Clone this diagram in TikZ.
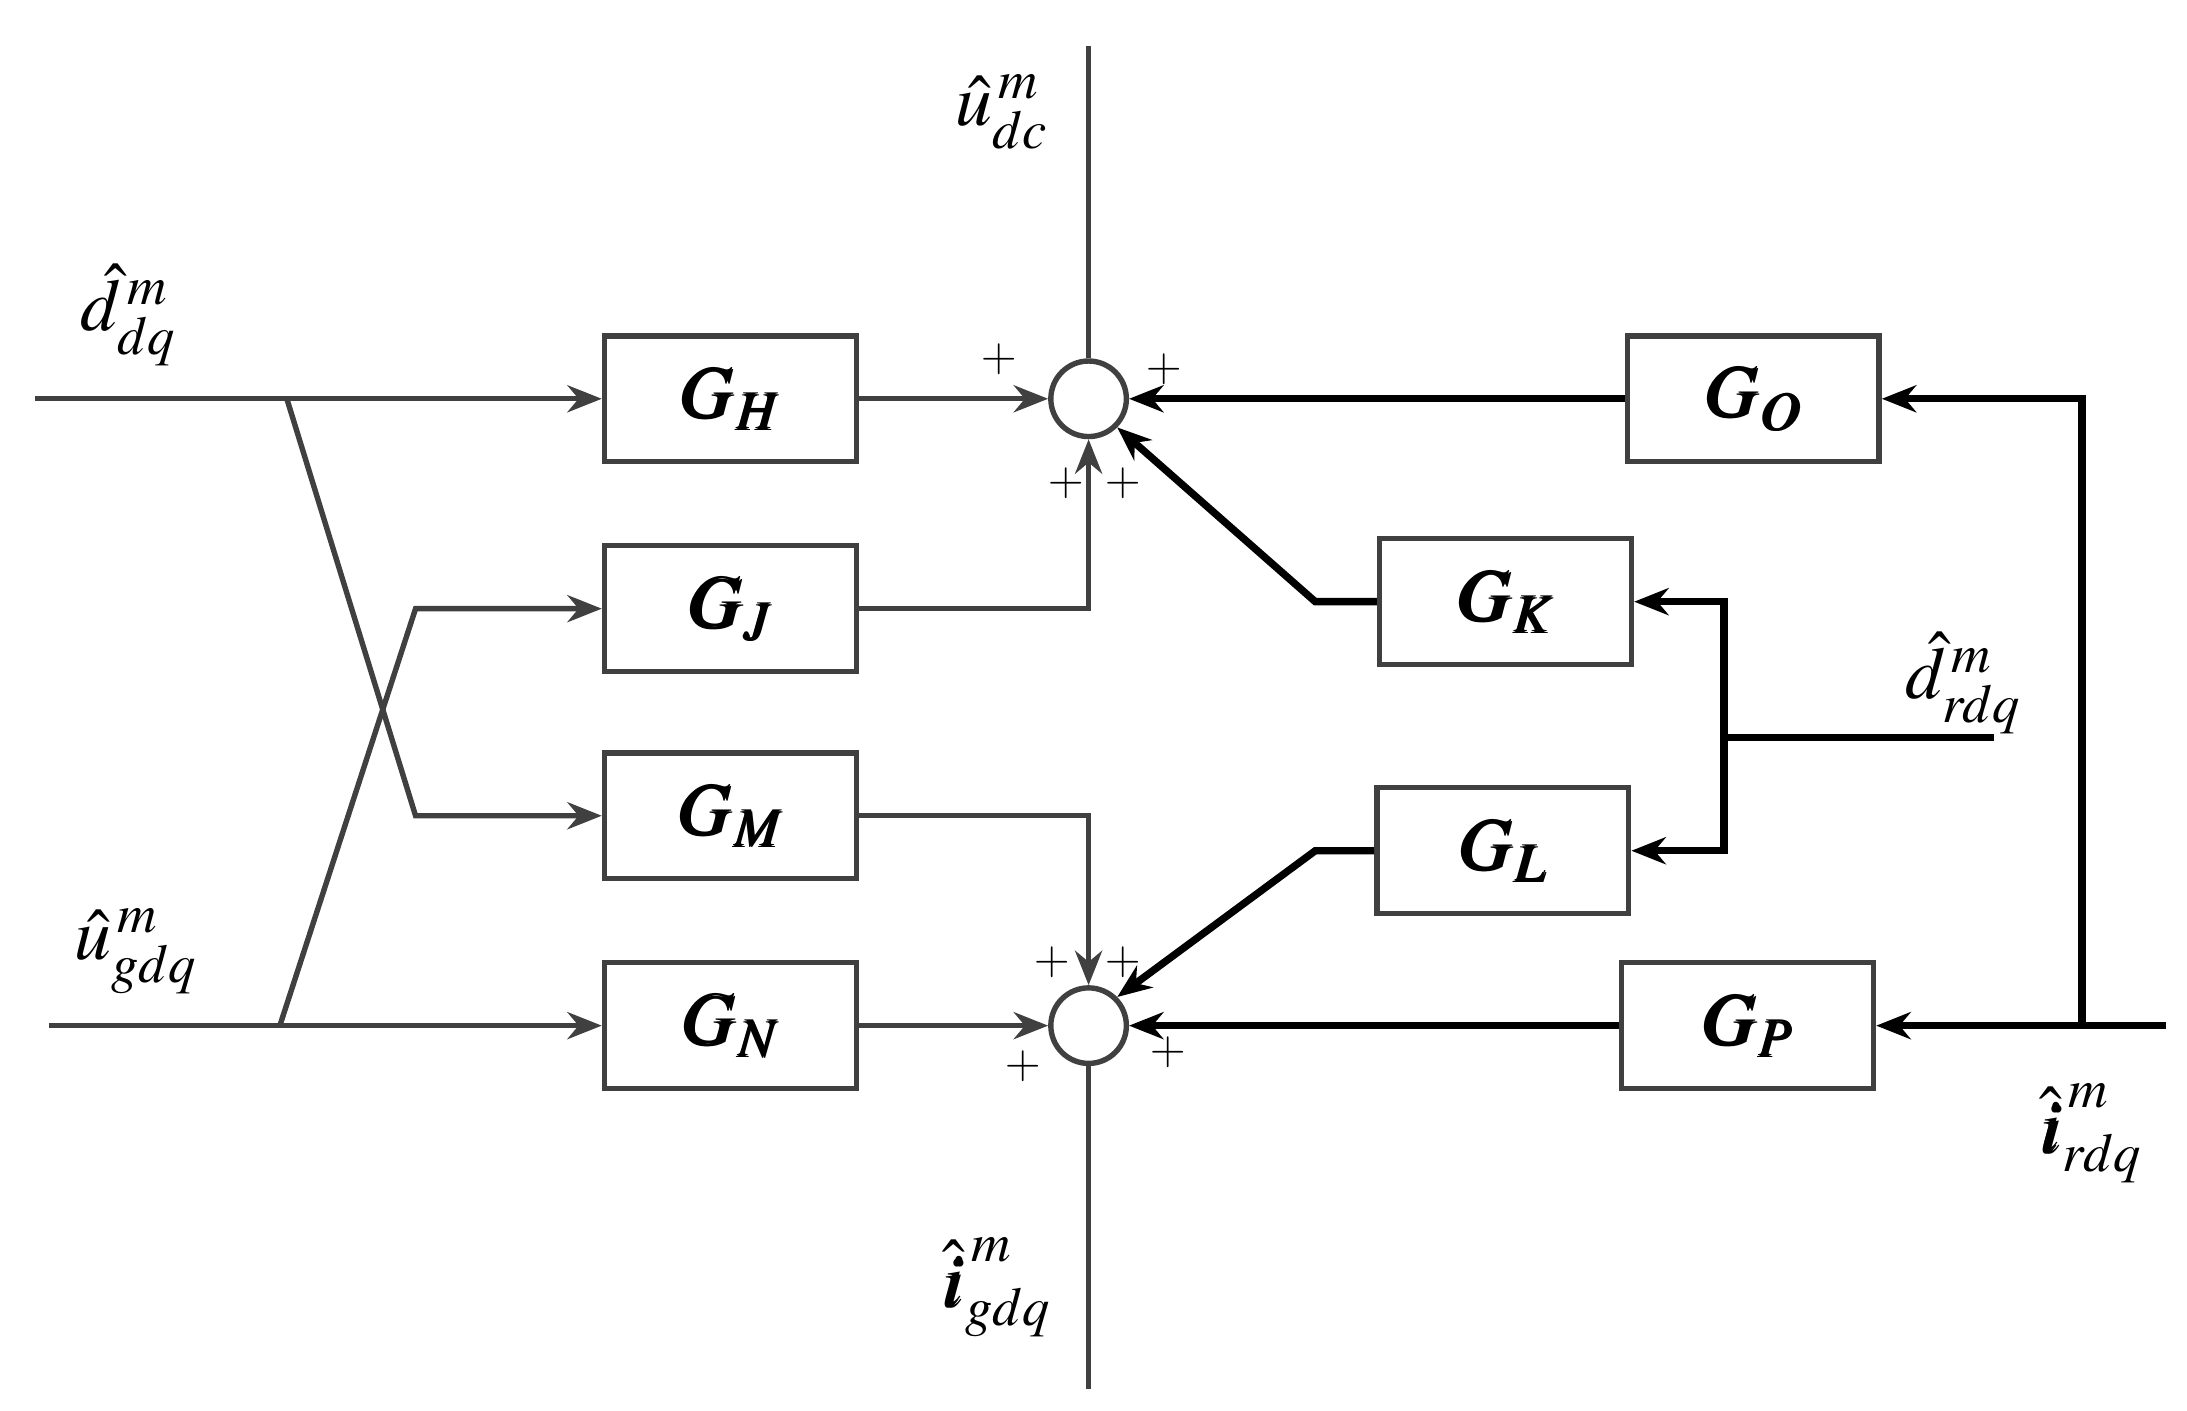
\documentclass[tikz,border=0pt]{standalone}
\usepackage{mathptmx}
\usepackage{bm}
\usetikzlibrary{arrows.meta}
\begin{document}
\begin{tikzpicture}[x=0.02cm,y=-0.02cm,
 gl/.style={draw=black!75,line width=2.2pt},
 bl/.style={draw=black,line width=3pt},
 ar/.style={-{Stealth[length=14pt,width=11pt]}},
 box/.style={draw=black!75,line width=2.2pt,minimum width=3.6cm,minimum height=1.8cm,font=\fontsize{30}{34}\selectfont},
 sum/.style={circle,draw=black!75,line width=2.2pt,minimum size=1.08cm,inner sep=0pt},
 pl/.style={font=\fontsize{20}{22}\selectfont},
 lab/.style={font=\fontsize{30}{34}\selectfont}]
\useasboundingbox (0,0) rectangle (1563,1008);
\node[sum] (s1) at (778,285) {};
\node[sum] (s2) at (778,733) {};
\node[box] (GH) at (522,285) {$\bm{G_H}$};
\node[box] (GJ) at (522,435) {$\bm{G_J}$};
\node[box] (GM) at (522,583) {$\bm{G_M}$};
\node[box] (GN) at (522,733) {$\bm{G_N}$};
\node[box] (GO) at (1253,285) {$\bm{G_O}$};
\node[box] (GK) at (1076,430) {$\bm{G_K}$};
\node[box] (GL) at (1074,608) {$\bm{G_L}$};
\node[box] (GP) at (1249,733) {$\bm{G_P}$};
\coordinate (in1) at (25,285);
\coordinate (in2) at (35,733);
\coordinate (c1) at (205,285);
\coordinate (c2) at (200,733);
\coordinate (top) at (778,33);
\coordinate (bot) at (778,993);
\coordinate (ir) at (1548,733);
\coordinate (ij) at (1488,733);
\coordinate (dr) at (1425,527);
\coordinate (dj) at (1232,527);
% left gray
\draw[gl,ar] (in1) -- (GH.west);
\draw[gl,ar] (in2) -- (GN.west);
\draw[gl,ar] (c1) -- (297,583) -- (GM.west);
\draw[gl,ar] (c2) -- (297,435) -- (GJ.west);
\draw[gl,ar] (GH.east) -- (s1.west);
\draw[gl,ar] (GJ.east) -- (778,435) -- (s1.south);
\draw[gl,ar] (GM.east) -- (778,583) -- (s2.north);
\draw[gl,ar] (GN.east) -- (s2.west);
\draw[gl] (s1.north) -- (top);
\draw[gl] (s2.south) -- (bot);
% right black
\draw[bl,ar] (GO.west) -- (s1.east);
\draw[bl,ar] (GP.west) -- (s2.east);
\draw[bl,ar] (ir) -- (GP.east);
\draw[bl,ar] (ij) -- (1488,285) -- (GO.east);
\draw[bl,ar] (GK.west) -- (940,430) -- (s1.south east);
\draw[bl,ar] (GL.west) -- (940,608) -- (s2.north east);
\draw[bl] (dr) -- (dj);
\draw[bl,ar] (1232,527) -- (1232,430) -- (GK.east);
\draw[bl,ar] (1232,527) -- (1232,608) -- (GL.east);
% plus signs
\node[pl] (p1) at (714,257) {+};
\node[pl] (p2) at (832,264) {+};
\node[pl] (p3) at (762,345) {+};
\node[pl] (p4) at (803,345) {+};
\node[pl] (p5) at (752,688) {+};
\node[pl] (p6) at (803,688) {+};
\node[pl] (p7) at (731,762) {+};
\node[pl] (p8) at (835,752) {+};
% labels
\node[lab] (l1) at (92,225) {$\hat{d}^{\,m}_{dq}$};
\node[lab] (l2) at (716,80) {$\hat{u}^{\,m}_{dc}$};
\node[lab] (l3) at (97,680) {$\hat{u}^{\,m}_{gdq}$};
\node[lab] (l4) at (1403,488) {$\hat{d}^{\,m}_{rdq}$};
\node[lab] (l5) at (1494,810) {$\hat{\bm{i}}^{\,m}_{rdq}$};
\node[lab] (l6) at (712,920) {$\hat{\bm{i}}^{\,m}_{gdq}$};
\end{tikzpicture}
\end{document}
